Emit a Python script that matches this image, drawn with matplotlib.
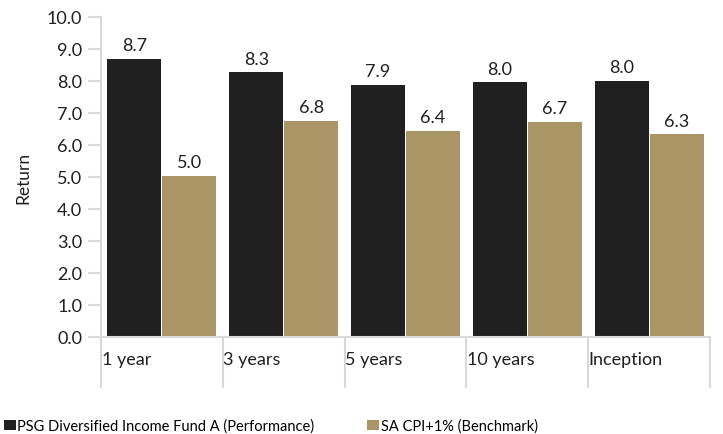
import matplotlib
matplotlib.use("Agg")
import matplotlib.pyplot as plt
import matplotlib.transforms as mtransforms
import numpy as np

# chart data
categories = ["1 year", "3 years", "5 years", "10 years", "Inception"]
performance = [8.69, 8.27, 7.89, 7.96, 8.0]
benchmark = [5.04, 6.76, 6.44, 6.72, 6.34]
series_names = ["PSG Diversified Income Fund A (Performance)", "SA CPI+1% (Benchmark)"]
yticks = [0.0, 1.0, 2.0, 3.0, 4.0, 5.0, 6.0, 7.0, 8.0, 9.0, 10.0]

plt.rcParams['font.family'] = ['Lato', 'DejaVu Sans']

BLACK = "#202020"
TAN = "#A99565"
AXIS = "#D9D9D9"

fig = plt.figure(figsize=(7.23, 4.35), dpi=100)
ax = fig.add_axes([101 / 723, 1 - 338 / 435, (710 - 101) / 723, 320 / 435])

x = np.arange(len(categories))
w = 0.443
b1 = ax.bar(x - w / 2 - 0.004, performance, w, color=BLACK, label=series_names[0])
b2 = ax.bar(x + w / 2 + 0.004, benchmark, w, color=TAN, label=series_names[1])

for bars in (b1, b2):
    for r in bars:
        ax.annotate(f"{r.get_height():.1f}", (r.get_x() + r.get_width() / 2, r.get_height()),
                    xytext=(0, 4), textcoords="offset points", ha="center", va="bottom",
                    fontsize=13, color="#202020")

ax.set_xlim(-0.5, len(categories) - 0.5)
ax.set_ylim(0, 10)
ax.set_yticks(yticks)
ax.set_yticklabels([f"{t:.1f}" for t in yticks], fontsize=13, color="#202020")
ax.tick_params(axis="y", length=9.5, width=1.5, color=AXIS, pad=4)

# category separators below axis, labels left aligned at each boundary
ax.set_xticks(np.arange(len(categories) + 1) - 0.5)
ax.set_xticklabels([])
ax.tick_params(axis="x", length=37, width=1.5, color=AXIS)
trans = mtransforms.blended_transform_factory(ax.transData, ax.transAxes)
for i, c in enumerate(categories):
    ax.text(i - 0.5 + 0.005, -0.068, c, transform=trans, ha="left", va="center",
            fontsize=13, color="#202020")

for s in ["top", "right"]:
    ax.spines[s].set_visible(False)
for s in ["left", "bottom"]:
    ax.spines[s].set_color(AXIS)
    ax.spines[s].set_linewidth(1.5)

ax.set_ylabel("Return", fontsize=12.5, color="#202020")
ax.yaxis.set_label_coords(-0.114, 0.5)

fig.legend(handles=[b1, b2], loc="center left", bbox_to_anchor=(0.005, 1 - 427 / 435),
           ncol=2, frameon=False, fontsize=10.5, handlelength=0.85, handleheight=0.65,
           handletextpad=0.1, columnspacing=3.6, borderaxespad=0, borderpad=0)

fig.savefig("out.png", dpi=100)
